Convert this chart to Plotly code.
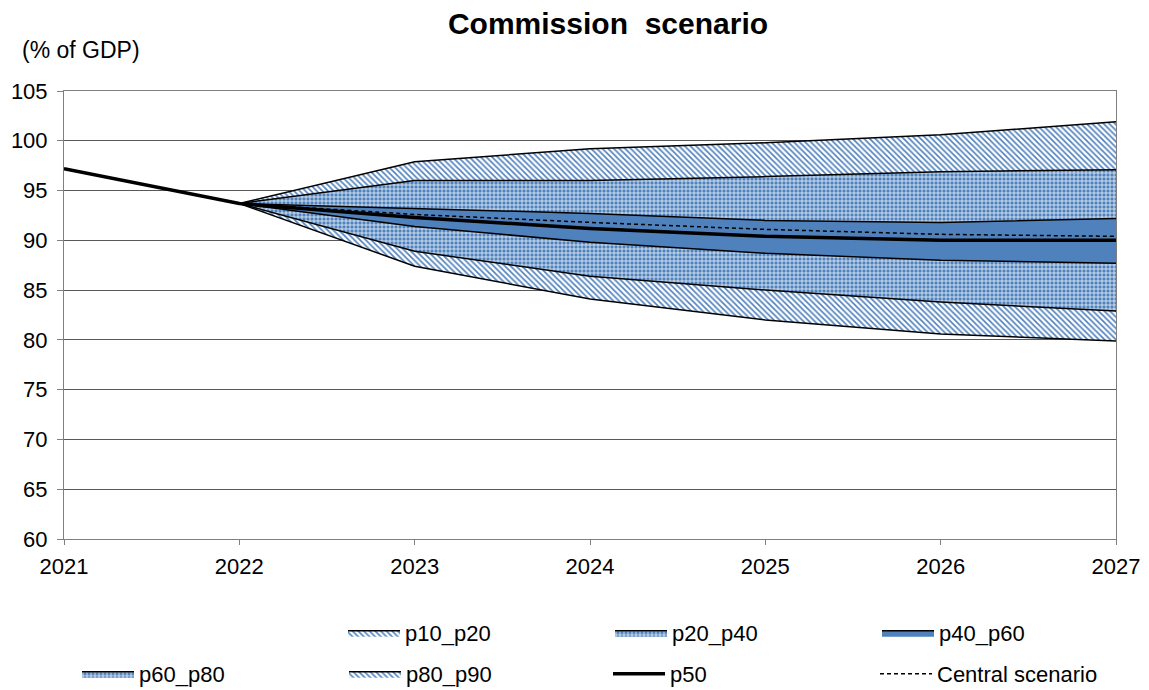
import plotly.graph_objects as go

years = [2021, 2022, 2023, 2024, 2025, 2026, 2027]
fan_years = [2022, 2023, 2024, 2025, 2026, 2027]

p10 = [93.7, 87.4, 84.1, 82.0, 80.6, 79.9]
p20 = [93.7, 88.9, 86.4, 85.0, 83.8, 82.9]
p40 = [93.7, 91.4, 89.8, 88.7, 88.0, 87.7]
p60 = [93.7, 93.2, 92.7, 92.0, 91.8, 92.2]
p80 = [93.7, 96.0, 96.0, 96.4, 96.9, 97.1]
p90 = [93.7, 97.9, 99.2, 99.8, 100.6, 101.9]
p50 = [97.2, 93.7, 92.3, 91.2, 90.4, 90.0, 90.0]
central = [97.2, 93.7, 92.6, 91.8, 91.1, 90.6, 90.4]

BLUE = "#4f81bd"
FONT = "Liberation Sans, Arial, sans-serif"
W, H = 1141, 682  # page has an 8px body margin

hatch = dict(shape="\\", fgcolor=BLUE, bgcolor="white", size=4, solidity=0.4, fillmode="replace")
grid = dict(shape="+", fgcolor="white", bgcolor=BLUE, size=4, solidity=0.32, fillmode="replace")

edge = dict(color="black", width=1.5)

fig = go.Figure()
fig.add_trace(go.Scatter(x=fan_years, y=p10, mode="lines", line=edge,
                         showlegend=False, name="p10"))
fig.add_trace(go.Scatter(x=fan_years, y=p20, mode="lines", line=edge, fill="tonexty",
                         fillpattern=hatch, name="p10_p20", legend="legend"))
fig.add_trace(go.Scatter(x=fan_years, y=p40, mode="lines", line=edge, fill="tonexty",
                         fillpattern=grid, name="p20_p40", legend="legend"))
fig.add_trace(go.Scatter(x=fan_years, y=p60, mode="lines", line=edge, fill="tonexty",
                         fillcolor=BLUE, name="p40_p60", legend="legend"))
fig.add_trace(go.Scatter(x=fan_years, y=p80, mode="lines", line=edge, fill="tonexty",
                         fillpattern=grid, name="p60_p80", legend="legend2"))
fig.add_trace(go.Scatter(x=fan_years, y=p90, mode="lines", line=edge, fill="tonexty",
                         fillpattern=hatch, name="p80_p90", legend="legend2"))
fig.add_trace(go.Scatter(x=years, y=p50, mode="lines", line=dict(color="black", width=3.5),
                         name="p50", legend="legend3"))
fig.add_trace(go.Scatter(x=years, y=central, mode="lines",
                         line=dict(color="black", width=1.5, dash="4px,3px"),
                         name="Central scenario", legend="legend3"))

leg_common = dict(orientation="h", xref="container", yref="container",
                  xanchor="left", yanchor="top",
                  entrywidth=200, entrywidthmode="pixels", traceorder="normal",
                  font=dict(size=22, color="black", family=FONT),
                  itemwidth=52, bgcolor="rgba(0,0,0,0)")

fig.update_layout(
    template="none",
    width=W, height=H,
    margin=dict(l=56, r=33, t=83, b=151),
    paper_bgcolor="white", plot_bgcolor="white",
    font=dict(family=FONT, size=22, color="black"),
    title=dict(text="<b>Commission  scenario</b>", x=600/W, xanchor="center",
               y=1 - 15/H, yanchor="middle", xref="container", yref="container",
               font=dict(size=30, color="black", family=FONT)),
    showlegend=True,
    legend=dict(leg_common, x=335/W, y=1 - 604/H),
    legend2=dict(leg_common, x=69/W, y=1 - 645/H),
    legend3=dict(leg_common, x=600/W, y=1 - 645/H),
    annotations=[dict(text="(% of GDP)", xref="paper", yref="paper",
                      x=(12 - 56)/1052, y=1 + (83 - 42)/448, xanchor="left",
                      yanchor="middle", showarrow=False,
                      font=dict(size=23, color="black", family=FONT))],
)
fig.update_xaxes(range=[2021, 2027], tickmode="array", tickvals=years,
                 ticktext=[str(y) for y in years], showgrid=False, automargin=False,
                 showline=True, linecolor="#7f7f7f", linewidth=1, mirror=True,
                 ticks="outside", ticklen=5, tickcolor="#7f7f7f", zeroline=False,
                 ticklabelstandoff=3)
fig.update_yaxes(range=[60, 105], dtick=5, tick0=60, showgrid=True, automargin=False,
                 gridcolor="#595959", gridwidth=1,
                 showline=True, linecolor="#7f7f7f", linewidth=1, mirror=True,
                 ticks="outside", ticklen=6, tickcolor="#7f7f7f", zeroline=False,
                 ticklabelstandoff=5)

fig.write_html("out.html")
